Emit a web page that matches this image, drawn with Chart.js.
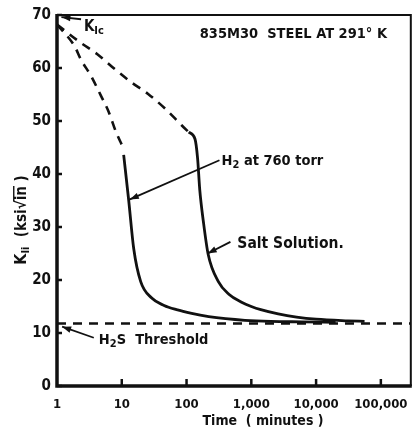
<!DOCTYPE html>
<html><head><meta charset="utf-8">
<script src="https://cdn.jsdelivr.net/npm/chart.js@4"></script>
<style>html,body{margin:0;padding:0;background:#fff}#wrap{width:419px;height:438px;position:relative}</style>
</head><body><div id="wrap"><canvas id="c" width="419" height="438"></canvas></div>
<script>
// ---- data ----
const xTickValues = [1, 10, 100, 1000, 10000, 100000];
const xTickLabels = ["1", "10", "100", "1,000", "10,000", "100,000"];
const yTickValues = [0, 10, 20, 30, 40, 50, 60, 70];

const h2ExtrapTime = [1, 1.87, 2.34, 3.35, 4.8, 6.25, 8.1, 10.2];
const h2ExtrapK    = [68.2, 64.1, 61.6, 58.5, 54.7, 51.8, 48, 45.3];
const h2Time = [10.7, 12.8, 15.3, 19.6, 29, 45, 70, 120, 220, 400, 800, 2000, 6000, 20000];
const h2K    = [43.6, 35, 25.9, 19.7, 16.6, 15.2, 14.4, 13.7, 13.1, 12.7, 12.4, 12.2, 12.1, 12.0];

const saltExtrapTime = [1, 2.3, 4.2, 7.8, 13.7, 25.5, 47, 84, 108];
const saltExtrapK    = [68.2, 64.8, 62.6, 59.8, 57.4, 55.1, 52.3, 49.2, 47.9];
const saltTime = [108, 135, 148, 160, 182, 216, 310, 450, 708, 1000, 1400, 2600, 5000, 10000, 31000, 56000];
const saltK    = [47.9, 46.6, 43, 37, 31, 24.8, 19.7, 17.3, 15.8, 15.0, 14.4, 13.6, 13.0, 12.6, 12.3, 12.2];

const thresholdTime = [1, 290000];
const thresholdK    = [11.8, 11.8];

const xMin = 1, xMax = 290000, yMin = 0, yMax = 70;

// ---- helpers ----
const FONT = '"DejaVu Sans Condensed", "DejaVu Sans", sans-serif';
const pts = (xs, ys) => xs.map((x, i) => ({x, y: ys[i]}));
const INK = '#111';

function ds(xs, ys, dashed, width) {
  return {
    data: pts(xs, ys), borderColor: INK, borderWidth: width,
    borderDash: dashed ? [9, 7] : [], pointRadius: 0, fill: false,
    cubicInterpolationMode: 'monotone', borderCapStyle: 'butt'
  };
}

function drawArrow(ctx, x1, y1, x2, y2) {
  ctx.save();
  ctx.strokeStyle = INK; ctx.fillStyle = INK; ctx.lineWidth = 1.8;
  ctx.beginPath(); ctx.moveTo(x1, y1); ctx.lineTo(x2, y2); ctx.stroke();
  const a = Math.atan2(y2 - y1, x2 - x1), L = 9, W = 3.2;
  ctx.beginPath();
  ctx.moveTo(x2, y2);
  ctx.lineTo(x2 - L * Math.cos(a) + W * Math.sin(a), y2 - L * Math.sin(a) - W * Math.cos(a));
  ctx.lineTo(x2 - L * Math.cos(a) - W * Math.sin(a), y2 - L * Math.sin(a) + W * Math.cos(a));
  ctx.closePath(); ctx.fill();
  ctx.restore();
}

// parts: [text, size, dy, overline]
function drawRich(ctx, parts, x, y, align) {
  ctx.save();
  ctx.fillStyle = INK; ctx.textBaseline = 'middle'; ctx.textAlign = 'left';
  let w = 0;
  parts.forEach(p => { ctx.font = 'bold ' + p[1] + 'px ' + FONT; w += ctx.measureText(p[0]).width; });
  let cx = align === 'center' ? x - w / 2 : (align === 'right' ? x - w : x);
  parts.forEach(p => {
    ctx.font = 'bold ' + p[1] + 'px ' + FONT;
    const tw = ctx.measureText(p[0]).width;
    ctx.fillText(p[0], cx, y + (p[2] || 0));
    if (p[3]) {
      ctx.lineWidth = 1.4; ctx.strokeStyle = INK;
      ctx.beginPath(); ctx.moveTo(cx - 1, y - p[1] * 0.55); ctx.lineTo(cx + tw, y - p[1] * 0.55); ctx.stroke();
    }
    cx += tw;
  });
  ctx.restore();
}

const decor = {
  id: 'decor',
  afterDatasetsDraw(chart) {
    const ctx = chart.ctx, a = chart.chartArea, sx = chart.scales.x, sy = chart.scales.y;
    const P = (x, y) => [sx.getPixelForValue(x), sy.getPixelForValue(y)];
    ctx.save();
    ctx.strokeStyle = INK;
    // frame
    ctx.lineWidth = 2; ctx.beginPath();
    ctx.moveTo(a.left, a.top); ctx.lineTo(a.right, a.top); ctx.lineTo(a.right, a.bottom); ctx.stroke();
    ctx.lineWidth = 3.5; ctx.beginPath();
    ctx.moveTo(a.left, a.top - 1); ctx.lineTo(a.left, a.bottom); ctx.lineTo(a.right + 1, a.bottom); ctx.stroke();
    // inward ticks
    ctx.lineWidth = 2.5;
    yTickValues.forEach(v => {
      const y = sy.getPixelForValue(v);
      ctx.beginPath(); ctx.moveTo(a.left, y); ctx.lineTo(a.left + 5, y); ctx.stroke();
    });
    xTickValues.slice(1).forEach(v => {
      const x = sx.getPixelForValue(v);
      ctx.beginPath(); ctx.moveTo(x, a.bottom); ctx.lineTo(x, a.bottom - 7); ctx.stroke();
    });
    ctx.restore();

    // annotations
    let p, q;
    // K_Ic
    p = P(2.35, 69.2); q = P(1.17, 69.6); drawArrow(ctx, p[0], p[1], q[0], q[1]);
    p = P(2.6, 67.8); drawRich(ctx, [['K', 15], ['Ic', 11, 4]], p[0], p[1], 'left');
    // title
    p = P(160, 66.3); drawRich(ctx, [['835M30  STEEL AT 291° K', 14.5]], p[0], p[1], 'left');
    // H2 at 760 torr
    p = P(322, 42.6); q = P(13.3, 35.2); drawArrow(ctx, p[0], p[1], q[0], q[1]);
    p = P(347, 42.5); drawRich(ctx, [['H', 14.5], ['2', 11, 4], [' at 760 torr', 14.5]], p[0], p[1], 'left');
    // Salt Solution
    p = P(476, 27.2); q = P(212, 25); drawArrow(ctx, p[0], p[1], q[0], q[1]);
    p = P(609, 26.8); drawRich(ctx, [['Salt Solution.', 15.5]], p[0], p[1], 'left');
    // H2S Threshold
    p = P(3.7, 9.1); q = P(1.2, 11.2); drawArrow(ctx, p[0], p[1], q[0], q[1]);
    p = P(4.43, 8.6); drawRich(ctx, [['H', 14.5], ['2', 11, 4], ['S  Threshold', 14.5]], p[0], p[1], 'left');

    // axis titles
    drawRich(ctx, [['Time  ( minutes )', 14]], 263, 421, 'center');
    ctx.save();
    ctx.translate(22, 220); ctx.rotate(-Math.PI / 2);
    drawRich(ctx, [['K', 16], ['Ii', 11, 4], ['  (ksi', 15], ['√', 15], ['in', 15, 0, true], [' )', 15]], 0, 0, 'center');
    ctx.restore();
  }
};

new Chart(document.getElementById('c'), {
  type: 'line',
  data: {
    datasets: [
      ds(h2ExtrapTime, h2ExtrapK, true, 2.6),
      ds(h2Time, h2K, false, 2.8),
      ds(saltExtrapTime, saltExtrapK, true, 2.6),
      ds(saltTime, saltK, false, 2.8),
      ds(thresholdTime, thresholdK, true, 2.4)
    ]
  },
  options: {
    responsive: false, animation: false,
    layout: {padding: {top: 10, right: 6, left: 0, bottom: 0}},
    plugins: {legend: {display: false}, tooltip: {enabled: false}},
    scales: {
      x: {
        type: 'logarithmic', min: xMin, max: xMax,
        grid: {display: false, drawTicks: false}, border: {display: false},
        afterBuildTicks: s => { s.ticks = xTickValues.map(v => ({value: v})); },
        afterFit: s => { s.height = 52; },
        ticks: {
          autoSkip: false, maxRotation: 0, padding: 11, color: INK,
          font: {family: FONT, size: 13, weight: 'bold'},
          callback: (v, i) => xTickLabels[i]
        }
      },
      y: {
        type: 'linear', min: yMin, max: yMax,
        grid: {display: false, drawTicks: false}, border: {display: false},
        afterBuildTicks: s => { s.ticks = yTickValues.map(v => ({value: v})); },
        afterFit: s => { s.width = 57; },
        ticks: {padding: 6, color: INK, font: {family: FONT, size: 15, weight: 'bold'}}
      }
    }
  },
  plugins: [decor]
});
</script></body></html>
